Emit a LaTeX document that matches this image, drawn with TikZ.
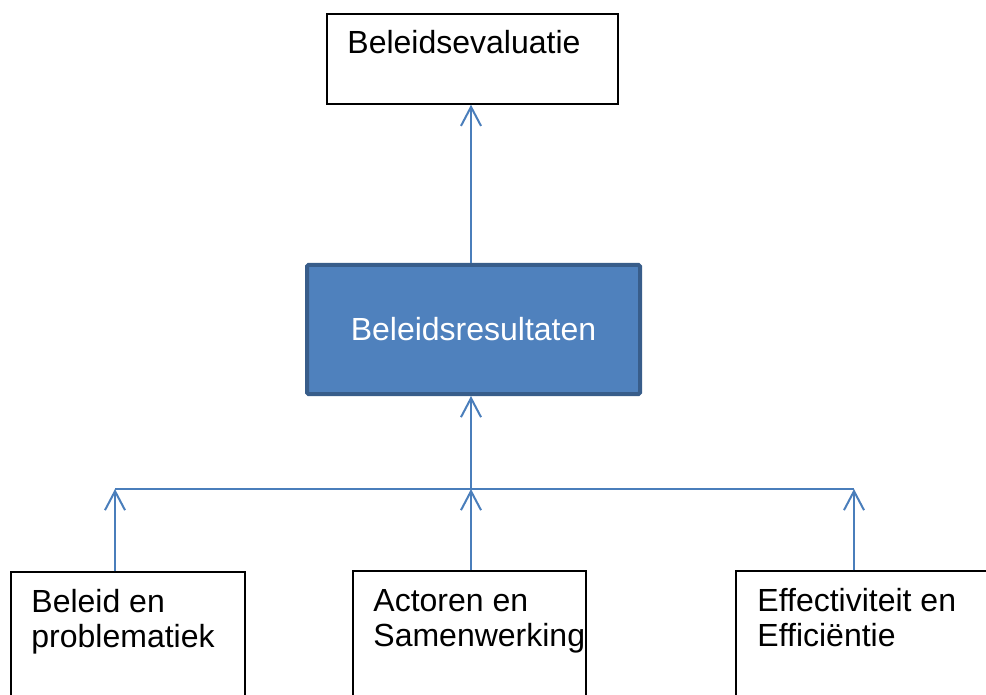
\documentclass[tikz,border=0pt]{standalone}
\usepackage{fontspec}
\setmainfont{Liberation Sans}
\usetikzlibrary{arrows.meta,calc}
\definecolor{lijn}{HTML}{4A7EBB}
\definecolor{vul}{HTML}{4F81BD}
\definecolor{rand}{HTML}{385D8A}

\begin{document}
\begin{tikzpicture}[x=1pt,y=-1pt,
    box/.style={draw=black, line width=1.5pt, fill=white, inner sep=0pt},
    txt/.style={anchor=base west, inner sep=0pt, align=left, font=\fontsize{32}{35}\selectfont},
    pijl/.style={draw=lijn, line width=2pt, -{Straight Barb[length=19pt,width=20pt]}}]
        \useasboundingbox (0,0) rectangle (986,695);
        \clip (0,0) rectangle (986,695);
        % boxes
        \node[box, minimum width=291, minimum height=90] (evaluatie) at (472.5,59) {};
        \node[draw=rand, fill=vul, line width=4pt, rounded corners=1.5pt, inner sep=0pt,
              minimum width=333, minimum height=129, text=white,
              font=\fontsize{32}{35}\selectfont] (resultaten) at (473.5,329.5) {Beleidsresultaten};
        \node[box, minimum width=234, minimum height=150] (beleid) at (128,647) {};
        \node[box, minimum width=233, minimum height=150] (actoren) at (469.5,646) {};
        \node[box, minimum width=260, minimum height=150] (effect) at (866,646) {};
        % texts (base = last line)
        \node[txt] (evaluatietekst) at ($(evaluatie.north west)+(21,40)$) {Beleidsevaluatie};
        \node[txt] (beleidtekst) at ($(beleid.north west)+(21,76)$) {Beleid en\\problematiek};
        \node[txt] (actorentekst) at ($(actoren.north west)+(21,76)$) {Actoren en\\Samenwerking};
        \node[txt] (effecttekst) at ($(effect.north west)+(22,76)$) {Effectiviteit en\\Efficiëntie};
        % connectors
        \coordinate (hub) at (471,489);
        \coordinate (hubL) at (115,489);
        \coordinate (hubR) at (854,489);
        \draw[draw=lijn, line width=2pt] (hubL) -- (hubR);
        \draw[pijl] (hubL |- beleid.north) -- (hubL);
        \draw[pijl] (hub |- actoren.north) -- (hub);
        \draw[pijl] (hubR |- effect.north) -- (hubR);
        \draw[pijl] (hub) -- (hub |- resultaten.south);
        \draw[pijl] (hub |- resultaten.north) -- (hub |- evaluatie.south);
    \end{tikzpicture}
\end{document}
